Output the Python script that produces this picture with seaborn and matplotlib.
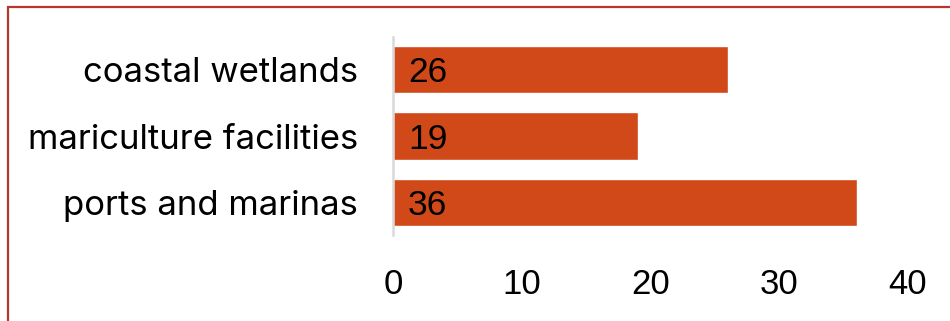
import matplotlib
matplotlib.use("Agg")
import matplotlib.pyplot as plt
from matplotlib.patches import Rectangle
import seaborn as sns
import pandas as pd

categories = ["coastal wetlands", "mariculture facilities", "ports and marinas"]
values = [26, 19, 36]
x_ticks = [0, 10, 20, 30, 40]

bar_color = "#D14918"
frame_color = "#B23A2B"

sns.set_theme(style="white")
plt.rcParams["font.family"] = ["Liberation Sans", "DejaVu Sans"]

df = pd.DataFrame({"category": categories, "value": values})

fig = plt.figure(figsize=(9.5, 3.21), dpi=100)
ax = fig.add_axes([0.4137, 0.2679, 0.9558 - 0.4137, 0.8847 - 0.2679])

sns.barplot(data=df, x="value", y="category", orient="h", color=bar_color,
            width=0.71, saturation=1, ax=ax)

ax.set_xlim(0, 40)
ax.set_ylim(2.49, -0.49)
ax.set_xticks(x_ticks)
ax.set_xticklabels([str(t) for t in x_ticks], fontsize=25, color="black")
ax.set_xlabel("")
ax.set_ylabel("")
ax.tick_params(axis="x", length=0, pad=24)
ax.tick_params(axis="y", length=0, pad=25)
for lbl in ax.get_yticklabels():
    lbl.set_fontfamily(["Inter", "DejaVu Sans"])
    lbl.set_fontsize(25)
    lbl.set_color("black")

for side in ["top", "right", "bottom"]:
    ax.spines[side].set_visible(False)
ax.spines["left"].set_color("#D9D9D9")
ax.spines["left"].set_linewidth(1.8)

# value labels anchored at the base of each bar
for patch, val in zip(ax.patches, values):
    y = patch.get_y() + patch.get_height() / 2
    ax.annotate(str(val), xy=(patch.get_x(), y), xytext=(15, -3),
                textcoords="offset pixels", ha="left", va="center",
                fontsize=25.5, color="black")

# outer frame, running past the right and bottom edges
frame = Rectangle((8 / 950, -0.1), 1.2, 1.1 - 7 / 321,
                  transform=fig.transFigure, fill=False,
                  edgecolor=frame_color, linewidth=1.6, clip_on=False)
fig.patches.append(frame)

fig.savefig("out.png", dpi=100)
